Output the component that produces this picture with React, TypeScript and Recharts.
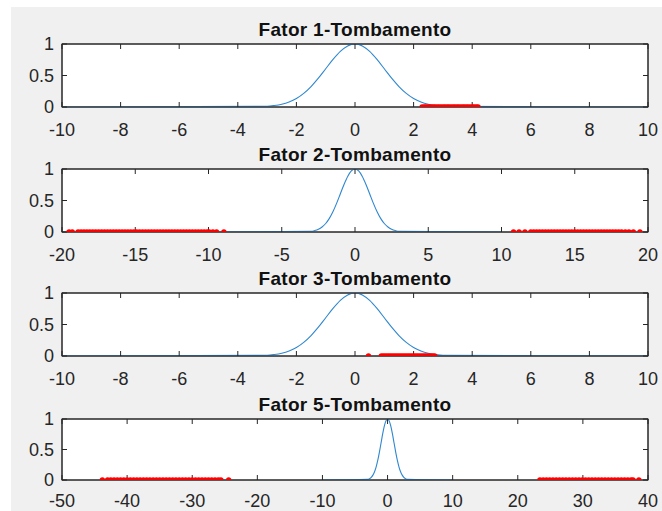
import React from 'react';
import { ComposedChart, Line, Scatter, XAxis, YAxis } from 'recharts';

// Gaussian-like membership curve (same shape in each panel)
const curveX = [-10, -3, -2.75, -2.5, -2.25, -2, -1.75, -1.5, -1.25, -1, -0.75, -0.5, -0.25, 0, 0.25, 0.5, 0.75, 1, 1.25, 1.5, 1.75, 2, 2.25, 2.5, 2.75, 3, 10];
const curveY = [0, 0.011, 0.023, 0.044, 0.08, 0.135, 0.216, 0.325, 0.458, 0.607, 0.755, 0.882, 0.969, 1, 0.969, 0.882, 0.755, 0.607, 0.458, 0.325, 0.216, 0.135, 0.08, 0.044, 0.023, 0.011, 0];

const titles = ['Fator 1-Tombamento', 'Fator 2-Tombamento', 'Fator 3-Tombamento', 'Fator 5-Tombamento'];

const ticks1 = [-10, -8, -6, -4, -2, 0, 2, 4, 6, 8, 10];
const ticks2 = [-20, -15, -10, -5, 0, 5, 10, 15, 20];
const ticks3 = [-10, -8, -6, -4, -2, 0, 2, 4, 6, 8, 10];
const ticks4 = [-50, -40, -30, -20, -10, 0, 10, 20, 30, 40];
const yTicks = [0, 0.5, 1];

// red sample points lying on y = 0
const red1 = [2.29, 2.36, 2.42, 2.49, 2.55, 2.62, 2.69, 2.75, 2.82, 2.88, 2.95, 3.02, 3.08, 3.15, 3.21, 3.28, 3.35, 3.41, 3.48, 3.54, 3.61, 3.68, 3.74, 3.81, 3.87, 3.94, 4.01, 4.07, 4.14, 4.2];
const red2 = [-19.52, -19.3, -18.9, -18.7, -18.5, -18.3, -18.1, -17.9, -17.7, -17.5, -17.3, -17.1, -16.9, -16.7, -16.5, -16.3, -16.1, -15.9, -15.7, -15.5, -15.3, -15.1, -14.9, -14.7, -14.5, -14.3, -14.1, -13.9, -13.7, -13.5, -13.3, -13.1, -12.9, -12.7, -12.5, -12.3, -12.1, -11.9, -11.7, -11.5, -11.3, -11.1, -10.9, -10.7, -10.5, -10.3, -10.1, -9.95, -9.7, -9.45, -8.95,
  10.82, 11.2, 11.6, 12.0, 12.2, 12.4, 12.6, 12.8, 13.0, 13.2, 13.4, 13.6, 13.8, 14.0, 14.2, 14.4, 14.6, 14.8, 15.0, 15.2, 15.4, 15.6, 15.8, 16.0, 16.2, 16.4, 16.6, 16.8, 17.0, 17.2, 17.4, 17.6, 17.8, 18.0, 18.2, 18.45, 18.7, 19.0, 19.45];
const red3 = [0.46, 0.9, 0.97, 1.04, 1.11, 1.18, 1.25, 1.32, 1.39, 1.46, 1.53, 1.6, 1.67, 1.74, 1.81, 1.88, 1.95, 2.02, 2.09, 2.16, 2.23, 2.3, 2.37, 2.44, 2.51, 2.58, 2.65, 2.72];
const red4 = [-43.8, -43.0, -42.5, -42.0, -41.5, -41.0, -40.5, -40.0, -39.5, -39.0, -38.5, -38.0, -37.5, -37.0, -36.5, -36.0, -35.5, -35.0, -34.5, -34.0, -33.5, -33.0, -32.5, -32.0, -31.5, -31.0, -30.5, -30.0, -29.5, -29.0, -28.5, -28.0, -27.5, -27.0, -26.5, -26.0, -25.6, -24.4,
  23.4, 23.9, 24.4, 24.9, 25.4, 25.9, 26.4, 26.9, 27.4, 27.9, 28.4, 28.9, 29.4, 29.9, 30.4, 30.9, 31.4, 31.9, 32.4, 32.9, 33.4, 33.9, 34.4, 34.9, 35.4, 35.9, 36.4, 36.9, 37.4, 37.7, 38.6];

const curveData = curveX.map((x, i) => ({ x, y: curveY[i] }));

const AXIS = '#262626';
const FONT = '"Liberation Sans", Arial, Helvetica, sans-serif';
const PLOT_LEFT = 62;
const PLOT_WIDTH = 586;

const RedDot = (props: any) => {
  const { cx, cy } = props;
  if (cx == null || cy == null) return null;
  return <circle cx={cx} cy={cy} r={2.7} fill="#ff0000" />;
};

const NoLabel = () => <g />;

type PanelProps = {
  title: string;
  ticks: number[];
  red: number[];
  plotTop: number;
  plotHeight: number;
  labelGap: number;
};

const Panel = ({ title, ticks, red, plotTop, plotHeight, labelGap }: PanelProps) => {
  const mTop = 40;
  const mBottom = 32;
  const H = mTop + plotHeight + mBottom;
  const domain: [number, number] = [ticks[0], ticks[ticks.length - 1]];
  const redData = red.map((x) => ({ x, y: 0 }));
  const tickStyle = { fill: AXIS, fontSize: 18, fontFamily: FONT };
  return (
    <div style={{ position: 'absolute', left: 0, top: plotTop - mTop, width: 662, height: H }}>
      {/* axes box background (white plot area with frame) */}
      <svg width={662} height={H} style={{ position: 'absolute', left: 0, top: 0 }}>
        <rect x={PLOT_LEFT} y={mTop} width={PLOT_WIDTH} height={plotHeight} fill="#ffffff" stroke={AXIS} strokeWidth={1} />
      </svg>
      <div
        style={{
          position: 'absolute',
          left: PLOT_LEFT,
          width: PLOT_WIDTH,
          top: mTop - 24,
          textAlign: 'center',
          fontFamily: FONT,
          fontWeight: 'bold',
          fontSize: 19,
          letterSpacing: '0.3px',
          lineHeight: '20px',
          color: '#111',
        }}
      >
        {title}
      </div>
      <div style={{ position: 'absolute', left: 0, top: 0 }}>
        <ComposedChart width={662} height={H} margin={{ top: mTop - 1, right: 13, bottom: 2, left: 2 }}>
          <XAxis
            xAxisId="b"
            type="number"
            dataKey="x"
            domain={domain}
            ticks={ticks}
            allowDataOverflow
            interval={0}
            height={mBottom - 2}
            stroke={AXIS}
            tickSize={-5}
            tickMargin={labelGap}
            tick={tickStyle}
          />
          <XAxis
            xAxisId="t"
            orientation="top"
            type="number"
            dataKey="x"
            domain={domain}
            ticks={ticks}
            allowDataOverflow
            interval={0}
            height={1}
            stroke={AXIS}
            tickSize={-5}
            tick={NoLabel}
          />
          <YAxis
            yAxisId="l"
            type="number"
            dataKey="y"
            domain={[0, 1]}
            ticks={yTicks}
            allowDataOverflow
            interval={0}
            width={60}
            stroke={AXIS}
            tickSize={-5}
            tickMargin={13}
            tick={tickStyle}
          />
          <YAxis
            yAxisId="r"
            orientation="right"
            type="number"
            dataKey="y"
            domain={[0, 1]}
            ticks={yTicks}
            allowDataOverflow
            interval={0}
            width={1}
            stroke={AXIS}
            tickSize={-5}
            tick={NoLabel}
          />
          {/* invisible twin so the top/right box axes have a series */}
          <Line
            xAxisId="t"
            yAxisId="r"
            data={curveData}
            dataKey="y"
            stroke="none"
            dot={false}
            activeDot={false}
            legendType="none"
            isAnimationActive={false}
          />
          <Line
            xAxisId="b"
            yAxisId="l"
            data={curveData}
            dataKey="y"
            type="monotone"
            stroke="#2f87d0"
            strokeWidth={1.1}
            dot={false}
            activeDot={false}
            isAnimationActive={false}
          />
          <Scatter
            xAxisId="b"
            yAxisId="l"
            data={redData}
            dataKey="y"
            shape={RedDot}
            isAnimationActive={false}
          />
        </ComposedChart>
      </div>
    </div>
  );
};

export default function App() {
  const panels = [
    { ticks: ticks1, red: red1, plotTop: 44, plotHeight: 63, labelGap: 21 },
    { ticks: ticks2, red: red2, plotTop: 169, plotHeight: 63, labelGap: 21 },
    { ticks: ticks3, red: red3, plotTop: 293, plotHeight: 63, labelGap: 21 },
    { ticks: ticks4, red: red4, plotTop: 419, plotHeight: 61, labelGap: 19 },
  ];
  return (
    <div style={{ position: 'absolute', left: 0, top: 0, width: 662, height: 511, background: '#ffffff', overflow: 'hidden' }}>
      <div style={{ position: 'absolute', left: 11, top: 7, right: 0, bottom: 0, background: '#f0f0f0' }} />
      {panels.map((p, i) => (
        <Panel key={i} title={titles[i]} ticks={p.ticks} red={p.red} plotTop={p.plotTop} plotHeight={p.plotHeight} labelGap={p.labelGap} />
      ))}
    </div>
  );
}
